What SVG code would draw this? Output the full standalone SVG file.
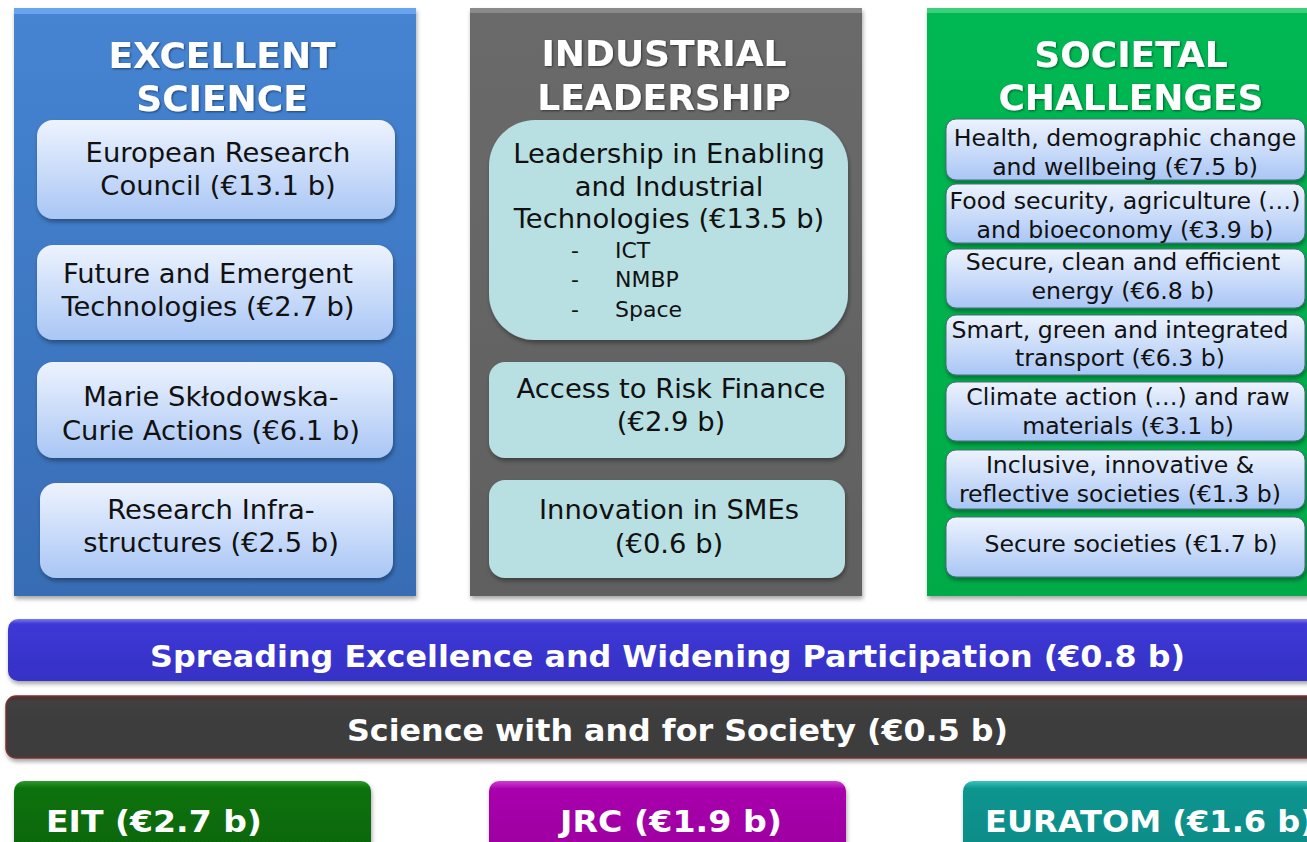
<svg xmlns="http://www.w3.org/2000/svg" width="1307" height="842" viewBox="0 0 1307 842">
<defs>
<filter id="sh" x="-10%" y="-10%" width="120%" height="130%"><feDropShadow dx="1" dy="3" stdDeviation="2" flood-color="#000" flood-opacity="0.35"/></filter>
<filter id="tsh" x="-5%" y="-10%" width="110%" height="130%"><feDropShadow dx="1" dy="1" stdDeviation="1" flood-color="#000" flood-opacity="0.5"/></filter>
<linearGradient id="gBlue" x1="0" y1="0" x2="0" y2="1"><stop offset="0" stop-color="#4584d2"/><stop offset="1" stop-color="#386db5"/></linearGradient>
<linearGradient id="gGray" x1="0" y1="0" x2="0" y2="1"><stop offset="0" stop-color="#6a6a6a"/><stop offset="1" stop-color="#606060"/></linearGradient>
<linearGradient id="gGreen" x1="0" y1="0" x2="0" y2="1"><stop offset="0" stop-color="#06b853"/><stop offset="1" stop-color="#00ab47"/></linearGradient>
<linearGradient id="gSub" x1="0" y1="0" x2="0" y2="1"><stop offset="0" stop-color="#edf3fe"/><stop offset="1" stop-color="#a9c6f5"/></linearGradient>
<linearGradient id="gBar" x1="0" y1="0" x2="0" y2="1"><stop offset="0" stop-color="#7a78ee"/><stop offset="0.08" stop-color="#3d38d6"/><stop offset="1" stop-color="#3631c6"/></linearGradient>
<linearGradient id="gDark" x1="0" y1="0" x2="0" y2="1"><stop offset="0" stop-color="#5a2a2a"/><stop offset="0.08" stop-color="#3f3f3f"/><stop offset="1" stop-color="#3c3c3c"/></linearGradient>
<linearGradient id="gEIT" x1="0" y1="0" x2="0" y2="1"><stop offset="0" stop-color="#2e9a2e"/><stop offset="0.1" stop-color="#0a720a"/><stop offset="1" stop-color="#066506"/></linearGradient>
<linearGradient id="gJRC" x1="0" y1="0" x2="0" y2="1"><stop offset="0" stop-color="#d33ad6"/><stop offset="0.1" stop-color="#a806ad"/><stop offset="1" stop-color="#9c009f"/></linearGradient>
<linearGradient id="gEUR" x1="0" y1="0" x2="0" y2="1"><stop offset="0" stop-color="#3cc3bd"/><stop offset="0.1" stop-color="#0c9590"/><stop offset="1" stop-color="#078a86"/></linearGradient>
</defs>
<style>
.head{font-family:"DejaVu Sans",Verdana,sans-serif;font-weight:bold;font-size:36px;fill:#fff;text-anchor:middle}
.t{font-family:"DejaVu Sans",Verdana,sans-serif;font-size:27.4px;fill:#111;text-anchor:middle}
.tg{font-family:"DejaVu Sans",Verdana,sans-serif;font-size:23.6px;fill:#111;text-anchor:middle}
.tb{font-family:"DejaVu Sans",Verdana,sans-serif;font-size:22px;fill:#111}
.bar{font-family:"DejaVu Sans",Tahoma,sans-serif;font-weight:bold;font-size:31px;fill:#fff}
.sub{fill:url(#gSub);filter:url(#sh)}
.subg{fill:url(#gSub);stroke:#4a6a7a;stroke-width:1;filter:url(#sh)}
.cy{fill:#b8dfe2;filter:url(#sh)}
</style>

<g id="excellent-science">
<rect x="14" y="8" width="402" height="588" fill="url(#gBlue)" filter="url(#sh)"/>
<rect x="14" y="8" width="402" height="6" fill="#6aa4ec"/>
<text class="head" x="222" y="68" filter="url(#tsh)">EXCELLENT</text>
<text class="head" x="222" y="111" filter="url(#tsh)">SCIENCE</text>
</g>
<g id="erc"><rect class="sub" x="37" y="120" width="358" height="99" rx="16"/>
<text class="t" x="218" y="162">European Research</text><text class="t" x="218" y="195">Council (€13.1 b)</text></g>
<g id="fet"><rect class="sub" x="37" y="245" width="356" height="95" rx="16"/>
<text class="t" x="208" y="283">Future and Emergent</text><text class="t" x="208" y="316">Technologies (€2.7 b)</text></g>
<g id="msca"><rect class="sub" x="37" y="362" width="356" height="96" rx="16"/>
<text class="t" x="211" y="406">Marie Skłodowska-</text><text class="t" x="211" y="440">Curie Actions (€6.1 b)</text></g>
<g id="ri"><rect class="sub" x="40" y="483" width="353" height="95" rx="16"/>
<text class="t" x="211" y="519">Research Infra-</text><text class="t" x="211" y="552">structures (€2.5 b)</text></g>

<g id="industrial-leadership">
<rect x="470" y="8" width="392" height="588" fill="url(#gGray)" filter="url(#sh)"/>
<rect x="470" y="8" width="392" height="5" fill="#8a8a8a"/>
<text class="head" x="664" y="66" filter="url(#tsh)">INDUSTRIAL</text>
<text class="head" x="664" y="110" filter="url(#tsh)">LEADERSHIP</text>
</g>
<g id="leit"><rect class="cy" x="489" y="120" width="359" height="220" rx="46"/>
<text class="t" x="669" y="163">Leadership in Enabling</text>
<text class="t" x="669" y="196">and Industrial</text>
<text class="t" x="669" y="228">Technologies (€13.5 b)</text>
<text class="tb" x="571" y="258">-</text><text class="tb" x="615" y="258">ICT</text>
<text class="tb" x="571" y="287">-</text><text class="tb" x="615" y="287">NMBP</text>
<text class="tb" x="571" y="317">-</text><text class="tb" x="615" y="317">Space</text></g>
<g id="risk-finance"><rect class="cy" x="489" y="362" width="356" height="96" rx="16"/>
<text class="t" x="671" y="398">Access to Risk Finance</text><text class="t" x="671" y="431">(€2.9 b)</text></g>
<g id="smes"><rect class="cy" x="489" y="480" width="356" height="98" rx="16"/>
<text class="t" x="669" y="519">Innovation in SMEs</text><text class="t" x="669" y="553">(€0.6 b)</text></g>

<g id="societal-challenges">
<rect x="927" y="8" width="392" height="588" fill="url(#gGreen)" filter="url(#sh)"/>
<rect x="927" y="8" width="392" height="5" fill="#3cd07a"/>
<text class="head" x="1131" y="67" filter="url(#tsh)">SOCIETAL</text>
<text class="head" x="1131" y="110" filter="url(#tsh)">CHALLENGES</text>
</g>
<g id="health"><rect class="subg" x="946" y="119" width="359" height="61" rx="10"/>
<text class="tg" x="1125" y="146">Health, demographic change</text><text class="tg" x="1125" y="175">and wellbeing (€7.5 b)</text></g>
<g id="food"><rect class="subg" x="946" y="184" width="359" height="59" rx="10"/>
<text class="tg" x="1125" y="209">Food security, agriculture (…)</text><text class="tg" x="1125" y="238">and bioeconomy (€3.9 b)</text></g>
<g id="energy"><rect class="subg" x="946" y="249" width="359" height="59" rx="10"/>
<text class="tg" x="1123" y="270">Secure, clean and efficient</text><text class="tg" x="1123" y="299">energy (€6.8 b)</text></g>
<g id="transport"><rect class="subg" x="946" y="315" width="359" height="60" rx="10"/>
<text class="tg" x="1120" y="338">Smart, green and integrated</text><text class="tg" x="1120" y="366">transport (€6.3 b)</text></g>
<g id="climate"><rect class="subg" x="946" y="382" width="359" height="59" rx="10"/>
<text class="tg" x="1128" y="405">Climate action (…) and raw</text><text class="tg" x="1128" y="434">materials (€3.1 b)</text></g>
<g id="inclusive"><rect class="subg" x="946" y="450" width="359" height="59" rx="10"/>
<text class="tg" x="1120" y="473">Inclusive, innovative &amp;</text><text class="tg" x="1120" y="502">reflective societies (€1.3 b)</text></g>
<g id="secure"><rect class="subg" x="946" y="517" width="359" height="60" rx="10"/>
<text class="tg" x="1131" y="552">Secure societies (€1.7 b)</text></g>

<g id="spreading"><rect x="8" y="619" width="1310" height="62" rx="10" fill="url(#gBar)" filter="url(#sh)"/>
<text class="bar" x="150" y="667" textLength="1035" lengthAdjust="spacingAndGlyphs">Spreading Excellence and Widening Participation (€0.8 b)</text></g>
<g id="swafs"><rect x="6" y="696" width="1312" height="62" rx="10" fill="url(#gDark)" stroke="#7a3030" stroke-width="1.5" filter="url(#sh)"/>
<text class="bar" x="347" y="741" textLength="661" lengthAdjust="spacingAndGlyphs">Science with and for Society (€0.5 b)</text></g>
<g id="eit"><rect x="14" y="781" width="357" height="75" rx="10" fill="url(#gEIT)" filter="url(#sh)"/>
<text class="bar" x="46" y="832" textLength="216" lengthAdjust="spacingAndGlyphs">EIT (€2.7 b)</text></g>
<g id="jrc"><rect x="489" y="781" width="357" height="75" rx="10" fill="url(#gJRC)" filter="url(#sh)"/>
<text class="bar" x="560" y="832" textLength="222" lengthAdjust="spacingAndGlyphs">JRC (€1.9 b)</text></g>
<g id="euratom"><rect x="963" y="781" width="360" height="75" rx="10" fill="url(#gEUR)" filter="url(#sh)"/>
<text class="bar" x="985" y="832" textLength="330" lengthAdjust="spacingAndGlyphs">EURATOM (€1.6 b)</text></g>
<g id="connectors"/>
</svg>
